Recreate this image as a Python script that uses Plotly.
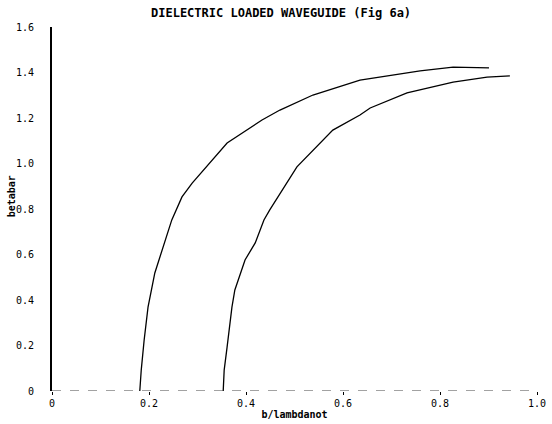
import plotly.graph_objects as go

# Curve 1 (left)
b1 = [0.181, 0.184, 0.190, 0.198, 0.212, 0.229, 0.247, 0.268, 0.289, 0.361,
      0.433, 0.470, 0.538, 0.635, 0.759, 0.827, 0.901]
beta1 = [0.0, 0.092, 0.224, 0.369, 0.519, 0.633, 0.752, 0.853, 0.914, 1.090,
         1.191, 1.235, 1.301, 1.367, 1.407, 1.424, 1.420]

# Curve 2 (right)
b2 = [0.353, 0.355, 0.361, 0.371, 0.377, 0.398, 0.419, 0.437, 0.449, 0.505,
      0.579, 0.635, 0.656, 0.732, 0.827, 0.897, 0.944]
beta2 = [0.0, 0.092, 0.193, 0.369, 0.444, 0.576, 0.651, 0.752, 0.796, 0.985,
         1.147, 1.213, 1.244, 1.310, 1.358, 1.380, 1.385]

xticks = [0, 0.2, 0.4, 0.6, 0.8, 1.0]
xticklabels = ["0", "0.2", "0.4", "0.6", "0.8", "1.0"]
yticks = [0, 0.2, 0.4, 0.6, 0.8, 1.0, 1.2, 1.4, 1.6]
yticklabels = ["0", "0.2", "0.4", "0.6", "0.8", "1.0", "1.2", "1.4", "1.6"]

FONT = "DejaVu Sans Mono"

fig = go.Figure()
fig.add_trace(go.Scatter(x=b1, y=beta1, mode="lines",
                         line=dict(color="black", width=1.3), showlegend=False))
fig.add_trace(go.Scatter(x=b2, y=beta2, mode="lines",
                         line=dict(color="black", width=1.3), showlegend=False))

# dashed baseline at y = 0
fig.add_shape(type="line", xref="x", yref="y", x0=0, x1=1.0, y0=0, y1=0,
              line=dict(color="#444", width=1, dash="dash"))

fig.update_layout(
    width=552, height=424,
    margin=dict(l=52, r=15, t=27, b=33),
    paper_bgcolor="white", plot_bgcolor="white",
    font=dict(family=FONT, size=10, color="black"),
    annotations=[
        dict(text="<b>DIELECTRIC LOADED WAVEGUIDE (Fig 6a)</b>", xref="paper", yref="paper",
             x=0.472, y=1, yanchor="middle", yshift=14, showarrow=False,
             font=dict(family=FONT, size=12, color="black")),
        dict(text="<b>betabar</b>", xref="paper", yref="paper",
             x=0, xanchor="center", xshift=-41, y=0.535, yanchor="middle",
             textangle=-90, showarrow=False,
             font=dict(family=FONT, size=10, color="black")),
    ],
)
fig.update_xaxes(range=[0, 1.0], tickvals=xticks, ticktext=xticklabels,
                 showgrid=False, zeroline=False, showline=False,
                 ticks="outside", ticklen=3, tickcolor="black",
                 automargin=False,
                 tickfont=dict(family=FONT, size=10),
                 title=dict(text="<b>b/lambdanot</b>", standoff=2,
                            font=dict(family=FONT, size=10)))
fig.update_yaxes(range=[0, 1.6], tickvals=yticks, ticktext=yticklabels,
                 showgrid=False, zeroline=False, showline=True,
                 linecolor="black", linewidth=2,
                 ticks="", ticklabelstandoff=14, automargin=False,
                 tickfont=dict(family=FONT, size=10))

fig.write_html("out.html", config={"displayModeBar": False},
               post_script="document.body.style.margin='0';document.body.style.overflow='hidden';")
